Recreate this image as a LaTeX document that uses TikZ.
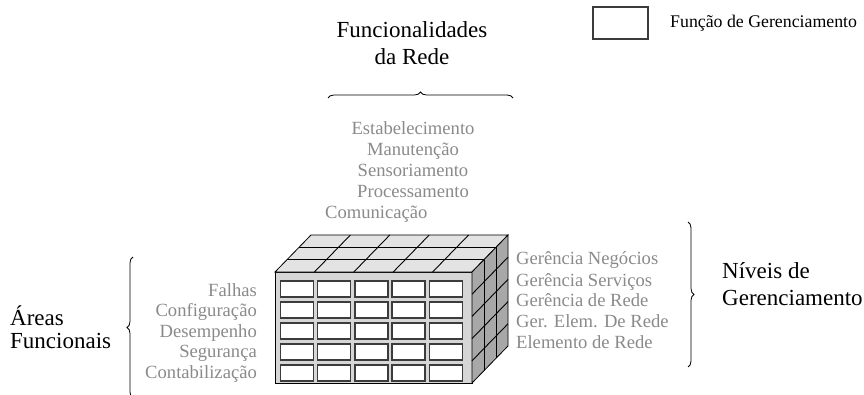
\documentclass[tikz,border=0pt]{standalone}
\usepackage{fontspec}
\setmainfont{Liberation Serif}
\usepackage{tikz}
\usetikzlibrary{positioning, calc, decorations.pathreplacing}
\definecolor{lblgray}{HTML}{8A8A8A}
\definecolor{frontgray}{HTML}{D6D6D6}
\definecolor{topgray}{HTML}{E3E3E3}
\definecolor{sidegray}{HTML}{A8A8A8}
\definecolor{edgegray}{HTML}{3C3C3C}
\tikzset{
    title/.style={font=\fontsize{23}{27}\selectfont, text=black, inner sep=0pt},
    item/.style={font=\fontsize{18.6}{21}\selectfont, text=lblgray, inner sep=0pt},
    legendtxt/.style={font=\fontsize{17.8}{20}\selectfont, text=black, inner sep=0pt},
    cell/.style={draw=edgegray, fill=white, line width=1.3pt},
    face/.style={draw=black, line width=0.8pt},
    gridln/.style={draw=black, line width=0.9pt},
    brc/.style={decorate, decoration={brace, amplitude=6pt}, line width=0.8pt}
}

\begin{document}
\begin{tikzpicture}[x=1pt, y=-1pt]
    \useasboundingbox (0,0) rectangle (864,395);
    % cube
    \coordinate (ftl) at (275,272);
    \coordinate (ftr) at (472,272);
    \coordinate (fbr) at (472,383);
    \coordinate (btl) at (311,235);
    \coordinate (btr) at (508,235);
    \coordinate (bbr) at (508,346);
    \filldraw[face, fill=frontgray] (ftl) rectangle (fbr);
    \filldraw[face, fill=topgray] (ftl) -- (btl) -- (btr) -- (ftr) -- cycle;
    \filldraw[face, fill=sidegray] (ftr) -- (btr) -- (bbr) -- (fbr) -- cycle;
    \foreach \k in {1,2} {
        \draw[gridln] ($(ftl)!\k/3!(btl)$) -- ($(ftr)!\k/3!(btr)$);
        \draw[gridln] ($(ftr)!\k/3!(btr)$) -- ($(fbr)!\k/3!(bbr)$);
    }
    \foreach \i in {1,...,4} {
        \draw[gridln] ($(ftl)!\i/5!(ftr)$) -- ($(btl)!\i/5!(btr)$);
        \draw[gridln] ($(ftr)!\i/5!(fbr)$) -- ($(btr)!\i/5!(bbr)$);
    }
    \foreach \c in {0,...,4}
        \foreach \r in {0,...,4}
            \draw[cell] (280.5+37.2*\c, 281+21*\r) rectangle ++(33,16);

    % titles
    \node[title, anchor=base] (func1) at (412,38) {Funcionalidades};
    \node[title, anchor=base] (func2) at (412,65) {da Rede};
    \node[title, anchor=base west] (areas1) at (10,325) {Áreas};
    \node[title, anchor=base west] (areas2) at (10,348) {Funcionais};
    \node[title, anchor=base west] (niveis1) at (722,278) {Níveis de};
    \node[title, anchor=base west] (niveis2) at (722,305) {Gerenciamento};

    % functionalities
    \node[item, anchor=base] (estab) at (413,135) {Estabelecimento};
    \node[item, anchor=base] (manut) at (413,156) {Manutenção};
    \node[item, anchor=base] (senso) at (413,177) {Sensoriamento};
    \node[item, anchor=base] (proc) at (413,198) {Processamento};
    \node[item, anchor=base west] (comun) at (325,219) {Comunicação};

    % functional areas
    \node[item, anchor=base east] (falhas) at (257,296) {Falhas};
    \node[item, anchor=base east] (config) at (257,316.5) {Configuração};
    \node[item, anchor=base east] (desemp) at (257,337) {Desempenho};
    \node[item, anchor=base east] (segur) at (257,357.5) {Segurança};
    \node[item, anchor=base east] (contab) at (257,378) {Contabilização};

    % management levels
    \node[item, anchor=base west] (gneg) at (516,265) {Gerência Negócios};
    \node[item, anchor=base west] (gserv) at (516,286) {Gerência Serviços};
    \node[item, anchor=base west] (grede) at (516,306.5) {Gerência de Rede};
    \node[item, anchor=base west] (gelem) at (516,327) {Ger. Elem. De Rede};
    \node[item, anchor=base west] (elem) at (516,348) {Elemento de Rede};

    % braces
    \coordinate (tb1) at (328,98);
    \coordinate (tb2) at (513,98);
    \coordinate (lb1) at (133,398);
    \coordinate (lb2) at (133,257);
    \coordinate (rb1) at (688,222);
    \coordinate (rb2) at (688,367);
    \draw[brc] (tb1) -- (tb2);
    \draw[brc] (lb1) -- (lb2);
    \draw[brc] (rb1) -- (rb2);

    % legend
    \node[draw=edgegray, line width=1.2pt, minimum width=55pt, minimum height=32pt, inner sep=0pt] (lgbox) at (620.5,23) {};
    \node[legendtxt, anchor=base west] (lgtxt) at (670,28) {Função de Gerenciamento};
\end{tikzpicture}
\end{document}
